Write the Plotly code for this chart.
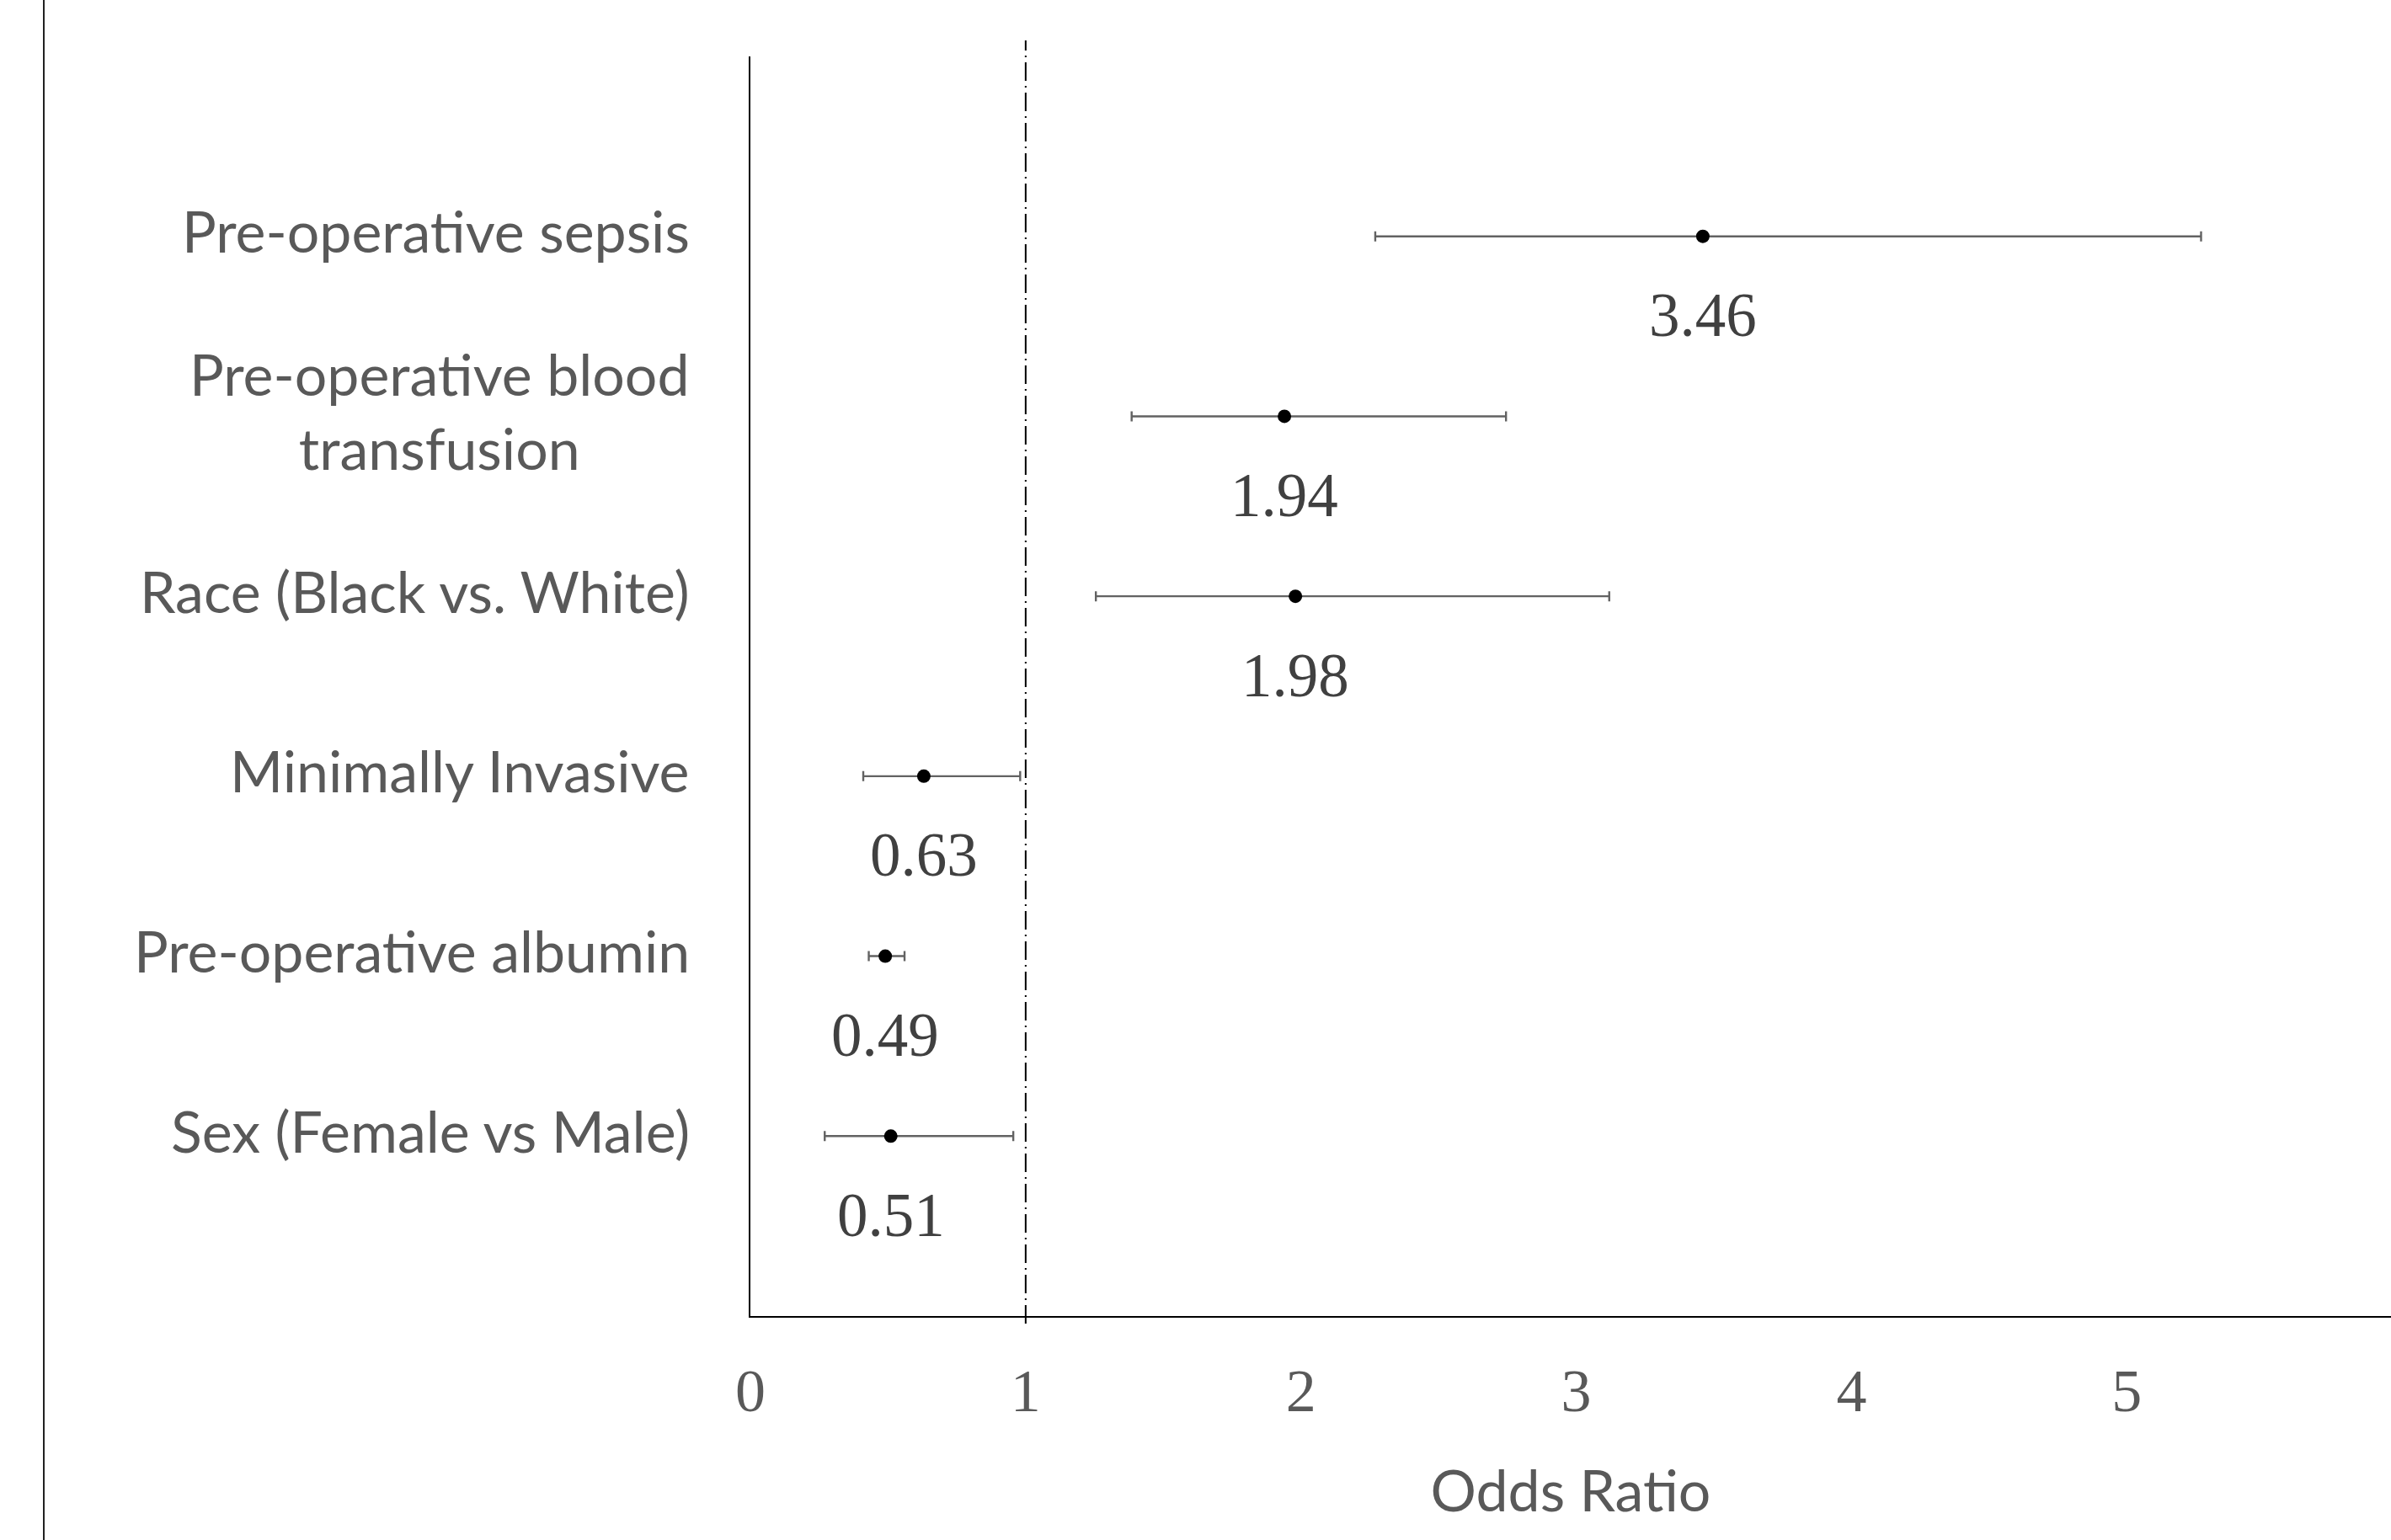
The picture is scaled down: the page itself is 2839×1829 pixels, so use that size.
import plotly.graph_objects as go

# ---- data ----
factors = [
    "Pre-operative sepsis",
    "Pre-operative blood<br>transfusion",
    "Race (Black vs. White)",
    "Minimally Invasive",
    "Pre-operative albumin",
    "Sex (Female vs Male)",
]
odds_ratio = [3.46, 1.94, 1.98, 0.63, 0.49, 0.51]
ci_lower = [2.27, 1.385, 1.255, 0.41, 0.43, 0.27]
ci_upper = [5.27, 2.745, 3.12, 0.98, 0.56, 0.955]
x_tick_values = [0, 1, 2, 3, 4, 5]
x_tick_labels = ["0", "1", "2", "3", "4", "5"]
reference_or = 1
x_title = "Odds Ratio"

W, H = 2839, 1829
ML, MR, MT, MB = 891, 0, 67, 266

err_plus = [u - o for u, o in zip(ci_upper, odds_ratio)]
err_minus = [o - l for o, l in zip(odds_ratio, ci_lower)]

fig = go.Figure()
fig.add_trace(go.Scatter(
    x=odds_ratio, y=factors, mode="markers",
    marker=dict(color="black", size=16),
    error_x=dict(type="data", symmetric=False, array=err_plus, arrayminus=err_minus,
                 color="#626262", thickness=2.4, width=6),
    showlegend=False, hoverinfo="skip",
))

# category labels (centered multi-line, right-anchored)
for f in factors:
    fig.add_annotation(
        x=0, xref="paper", y=f, yref="y", text=f, showarrow=False,
        xanchor="right", yanchor="middle", align="center", xshift=-70, yshift=7,
        font=dict(family="Lato", size=68, color="#595959"),
    )

# data labels below points
for f, o in zip(factors, odds_ratio):
    fig.add_annotation(
        x=o, y=f, text=f"{o:.2f}", showarrow=False, yshift=-94,
        xanchor="center", yanchor="middle",
        font=dict(family="Liberation Serif", size=73, color="#404040"),
    )

# reference line at OR = 1
fig.add_shape(
    type="line", xref="x", yref="paper", x0=reference_or, x1=reference_or,
    y0=-0.006, y1=1.0127,
    line=dict(color="black", width=2, dash="22px,6px,2px,6px"),
)

# left page border line
fig.add_shape(
    type="line", xref="paper", yref="paper",
    x0=(52 - ML) / (W - ML - MR), x1=(52 - ML) / (W - ML - MR),
    y0=-MB / (H - MT - MB), y1=1 + MT / (H - MT - MB),
    line=dict(color="#222222", width=2),
)

fig.update_layout(
    width=W, height=H, autosize=False,
    margin=dict(l=ML, r=MR, t=MT, b=MB, pad=0),
    paper_bgcolor="white", plot_bgcolor="white",
    xaxis=dict(
        range=[0, 5.96], tickmode="array", tickvals=x_tick_values, ticktext=x_tick_labels,
        showgrid=False, zeroline=False, showline=True, linecolor="black", linewidth=2,
        ticks="", ticklabelstandoff=25,
        tickfont=dict(family="Liberation Serif", size=72, color="#595959"),
        title=dict(text=x_title, standoff=56, font=dict(family="Lato", size=68, color="#595959")),
    ),
    yaxis=dict(
        type="category", categoryorder="array", categoryarray=list(reversed(factors)),
        range=[-1, 6], showgrid=False, zeroline=False, showline=True,
        linecolor="black", linewidth=2, showticklabels=False, ticks="",
    ),
)

fig.write_html("out.html", config={"displayModeBar": False},
               post_script="document.body.style.margin='0';")
